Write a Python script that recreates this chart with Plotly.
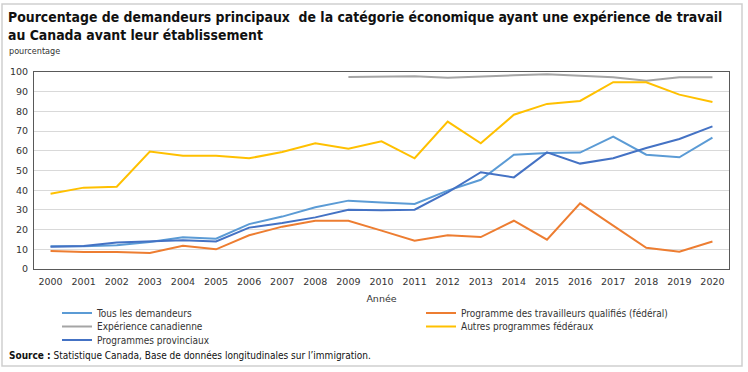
import plotly.graph_objects as go

years = [str(y) for y in range(2000, 2021)]
tous = [11.5, 11.5, 12.0, 13.7, 16.1, 15.4, 22.8, 26.6, 31.3, 34.7, 33.8, 33.0, 39.8, 45.3, 58.0, 58.9, 59.1, 67.2, 58.0, 56.7, 66.7]
ptqf = [9.1, 8.6, 8.6, 8.1, 11.8, 10.0, 17.1, 21.5, 24.5, 24.5, 19.5, 14.4, 17.1, 16.2, 24.5, 14.9, 33.3, 22.2, 10.8, 8.8, 14.0]
cec_years = years[9:]
cec = [97.5, 97.5, 97.8, 97.1, 97.8, 98.3, 98.8, 98.0, 97.3, 95.6, 97.3, 97.3]
autres = [38.2, 41.3, 41.8, 59.6, 57.5, 57.5, 56.2, 59.4, 63.8, 61.1, 64.8, 56.2, 74.8, 63.8, 78.3, 83.8, 85.3, 94.8, 94.8, 88.5, 84.8]
pnp = [11.3, 11.7, 13.4, 13.9, 14.6, 14.0, 21.0, 23.4, 26.2, 30.1, 29.8, 30.1, 38.9, 49.1, 46.5, 59.2, 53.5, 56.2, 61.4, 66.0, 72.4]

names = ["Tous les demandeurs", "Programme des travailleurs qualifiés (fédéral)",
         "Expérience canadienne", "Autres programmes fédéraux", "Programmes provinciaux"]
colors = ["#5B9BD5", "#ED7D31", "#A5A5A5", "#FFC000", "#4472C4"]
legend_ids = ["legend", "legend2", "legend3", "legend4", "legend5"]

W, H = 748, 372
ml, mr, mt, mb = 34, 19, 72, 103
pw, ph = W - ml - mr, H - mt - mb


def px(xp):
    return (xp - ml) / pw


def py(yp):
    return (H - mb - yp) / ph


fig = go.Figure()
series = [(years, tous), (years, ptqf), (cec_years, cec), (years, autres), (years, pnp)]
for (xs, ys), n, c, lg in zip(series, names, colors, legend_ids):
    fig.add_trace(go.Scatter(x=xs, y=ys, name=n, mode="lines", legend=lg,
                             line=dict(color=c, width=2)))

base = "DejaVu Sans, Verdana, sans-serif"
cond = "DejaVu Sans Condensed, DejaVu Sans, sans-serif"
tick_font = dict(family=base, size=9.5, color="#333333")
leg_font = dict(family=cond, size=10, color="#333333")


def legend_cfg(xl, yc):
    return dict(orientation="h", x=px(xl), y=py(yc), xanchor="left", yanchor="middle",
                font=leg_font, itemwidth=30, bgcolor="rgba(0,0,0,0)", borderwidth=0)


fig.update_layout(
    width=W, height=H,
    margin=dict(l=ml, r=mr, t=mt, b=mb, autoexpand=False),
    paper_bgcolor="white", plot_bgcolor="white",
    xaxis=dict(type="category", categoryorder="array", categoryarray=years,
               range=[-0.5, 20.5], showgrid=False, showline=True, mirror=True,
               linecolor="#595959", linewidth=1, ticks="", tickfont=tick_font,
               ticklabelstandoff=4,
               title=dict(text="Année", font=dict(family=base, size=9.5, color="#333333"), standoff=8)),
    yaxis=dict(range=[0, 100], dtick=10, showgrid=True, gridcolor="#D9D9D9",
               showline=True, mirror=True, linecolor="#595959", linewidth=1,
               ticks="", tickfont=tick_font, zeroline=False, ticklabelstandoff=3),
    legend=legend_cfg(57, 313),
    legend2=legend_cfg(421, 313),
    legend3=legend_cfg(57, 326.5),
    legend4=legend_cfg(421, 326.5),
    legend5=legend_cfg(57, 340),
    showlegend=True,
)

title_font = dict(family="DejaVu Sans Condensed, Liberation Sans, sans-serif", size=13.9, color="#111111")
fig.add_annotation(text="<b>Pourcentage de demandeurs principaux  de la catégorie économique ayant une expérience de travail"
                        "<br>au Canada avant leur établissement</b>",
                   xref="paper", yref="paper", x=px(7), y=py(26), borderpad=0,
                   xanchor="left", yanchor="middle", align="left", showarrow=False, font=title_font)
fig.add_annotation(text="pourcentage", xref="paper", yref="paper",
                   x=px(7), y=py(51), xanchor="left", yanchor="middle",
                   showarrow=False, font=dict(family=cond, size=9, color="#333333"))
fig.add_annotation(text="<b>Source :</b> Statistique Canada, Base de données longitudinales sur l’immigration.",
                   xref="paper", yref="paper", x=px(7), y=py(355),
                   xanchor="left", yanchor="middle", showarrow=False,
                   font=dict(family=cond, size=10, color="#111111"))

# outer frame
fig.add_shape(type="rect", xref="paper", yref="paper",
              x0=px(2), x1=px(742), y0=py(366), y1=py(4),
              line=dict(color="#CFCFCF", width=1.5), fillcolor="rgba(0,0,0,0)", layer="below")

fig.write_html("out.html", config={"displayModeBar": False},
               post_script="document.body.style.margin='0';")
